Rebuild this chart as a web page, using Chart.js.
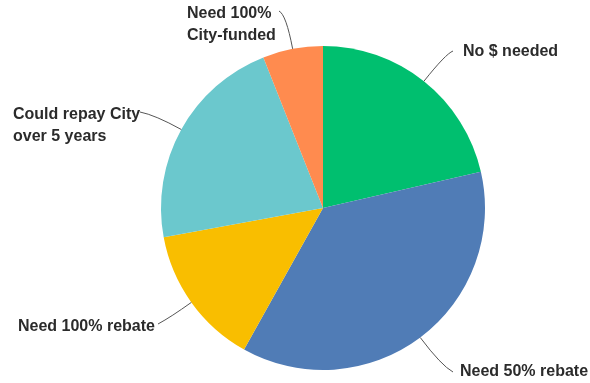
<!DOCTYPE html>
<html>
<head>
<meta charset="utf-8">
<script src="https://cdn.jsdelivr.net/npm/chart.js@4"></script>
<style>
    html, body { margin: 0; padding: 0; background: #fff; }
    #wrap { width: 590px; height: 383px; position: relative; }
</style>
</head>
<body>
<div id="wrap"><canvas id="pie"></canvas></div>
<script>
// ── Data ──
const categories = ["No $ needed", "Need 50% rebate", "Need 100% rebate", "Could repay City over 5 years", "Need 100% City-funded"];
const shares = [21.4, 36.7, 14.0, 21.9, 6.0];
const sliceColors = ["#00bf6f", "#507cb6", "#f9be00", "#6bc8cd", "#ff8b4f"];

// label text lines, in slice order
const labelLines = [
    ["No $ needed"],
    ["Need 50% rebate"],
    ["Need 100% rebate"],
    ["Could repay City", "over 5 years"],
    ["Need 100%", "City-funded"]
];

// ── Label layout (text position, leader end, leader bend length) ──
const labelLayout = [
    { x: 463, y: 52,  endX: 453, endY: 51,  bend: 35 },
    { x: 460, y: 372, endX: 453, endY: 372, bend: 35 },
    { x: 18,  y: 327, endX: 158, endY: 324, bend: 25 },
    { x: 13,  y: 115, endX: 140, endY: 112, bend: 30 },
    { x: 187, y: 14,  endX: 279, endY: 11,  bend: 35 }
];

const leaderLabels = {
    id: "leaderLabels",
    afterDraw(chart) {
        const ctx = chart.ctx;
        const arcs = chart.getDatasetMeta(0).data;
        ctx.save();
        arcs.forEach(function (arc, i) {
            const p = arc.getProps(["x", "y", "startAngle", "endAngle", "outerRadius"], true);
            const mid = (p.startAngle + p.endAngle) / 2;
            const sx = p.x + Math.cos(mid) * p.outerRadius;
            const sy = p.y + Math.sin(mid) * p.outerRadius;
            const L = labelLayout[i];
            const cx = sx + Math.cos(mid) * L.bend;
            const cy = sy + Math.sin(mid) * L.bend;

            ctx.beginPath();
            ctx.moveTo(sx, sy);
            ctx.quadraticCurveTo(cx, cy, L.endX, L.endY);
            ctx.strokeStyle = "#555";
            ctx.lineWidth = 1;
            ctx.stroke();

            ctx.fillStyle = "#2b2b2b";
            ctx.font = "bold 16px 'Liberation Sans', Arial, sans-serif";
            ctx.textAlign = "left";
            ctx.textBaseline = "middle";
            labelLines[i].forEach(function (line, j) {
                ctx.fillText(line, L.x, L.y + j * 22);
            });
        });
        ctx.restore();
    }
};

new Chart(document.getElementById("pie"), {
    type: "pie",
    data: {
        labels: categories,
        datasets: [{
            data: shares,
            backgroundColor: sliceColors,
            borderWidth: 0
        }]
    },
    options: {
        responsive: true,
        maintainAspectRatio: false,
        animation: false,
        layout: { padding: { left: 161, right: 105, top: 46, bottom: 13 } },
        plugins: {
            legend: { display: false },
            tooltip: { enabled: false }
        }
    },
    plugins: [leaderLabels]
});
</script>
</body>
</html>
